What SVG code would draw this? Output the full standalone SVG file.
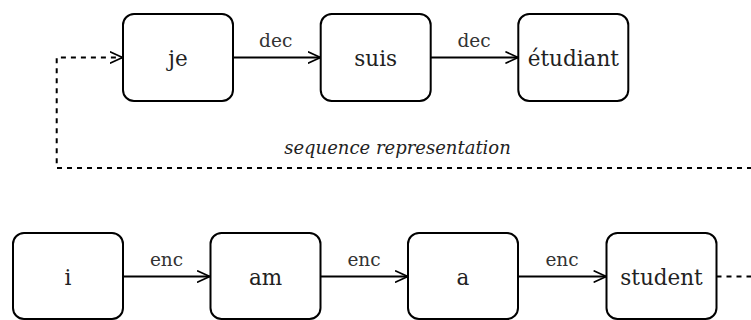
<svg xmlns="http://www.w3.org/2000/svg" width="751" height="320" viewBox="0 0 751 320">
<defs>
<style>
.box{fill:#fff;stroke:#000;stroke-width:2}
.node{font-family:'DejaVu Serif','Liberation Serif',serif;font-size:21.5px;fill:#222;text-anchor:middle}
.lbl{font-family:'DejaVu Serif','Liberation Serif',serif;font-size:18.5px;fill:#333;text-anchor:middle}
.ital{font-family:'DejaVu Serif','Liberation Serif',serif;font-size:18px;font-style:italic;fill:#222;text-anchor:middle}
.edge{fill:none;stroke:#000;stroke-width:1.8}
.dash{fill:none;stroke:#000;stroke-width:2;stroke-dasharray:5 5}
</style>
<marker id="arr" markerUnits="userSpaceOnUse" markerWidth="16" markerHeight="16" viewBox="0 0 16 16" refX="13" refY="8" orient="auto">
<path d="M1,2.5 L13,8 L1,13.5" fill="none" stroke="#000" stroke-width="1.8" stroke-linecap="round" stroke-linejoin="round"/>
</marker>
</defs>
<g id="connectors">
<path class="edge" d="M233 57.5 H320.5" marker-end="url(#arr)"/>
<path class="edge" d="M430.7 57.5 H518.1" marker-end="url(#arr)"/>
<path class="edge" d="M123 276.5 H209.8" marker-end="url(#arr)"/>
<path class="edge" d="M320.5 276.5 H407.8" marker-end="url(#arr)"/>
<path class="edge" d="M518 276.5 H606.3" marker-end="url(#arr)"/>
<path class="dash" d="M716.5 276.5 H770 V168 H56.7 V57.5 H122.5" marker-end="url(#arr)"/>
<text class="lbl" x="275.7" y="46.5">dec</text>
<text class="lbl" x="474" y="46.5">dec</text>
<text class="lbl" x="166.5" y="265.5">enc</text>
<text class="lbl" x="364" y="265.5">enc</text>
<text class="lbl" x="562" y="265.5">enc</text>
<text class="ital" x="397.5" y="154">sequence representation</text>
</g>
<g id="node-je"><rect class="box" x="123" y="14" width="110" height="87" rx="11"/><text class="node" x="178" y="66">je</text></g>
<g id="node-suis"><rect class="box" x="320.7" y="14" width="110" height="87" rx="11"/><text class="node" x="375.7" y="66">suis</text></g>
<g id="node-etudiant"><rect class="box" x="518.3" y="14" width="110" height="87" rx="11"/><text class="node" x="573.3" y="66">étudiant</text></g>
<g id="node-i"><rect class="box" x="13" y="233" width="110" height="86" rx="11"/><text class="node" x="68" y="285">i</text></g>
<g id="node-am"><rect class="box" x="210.5" y="233" width="110" height="86" rx="11"/><text class="node" x="265.5" y="285">am</text></g>
<g id="node-a"><rect class="box" x="408" y="233" width="110" height="86" rx="11"/><text class="node" x="463" y="285">a</text></g>
<g id="node-student"><rect class="box" x="606.5" y="233" width="110" height="86" rx="11"/><text class="node" x="661.5" y="285">student</text></g>
</svg>
